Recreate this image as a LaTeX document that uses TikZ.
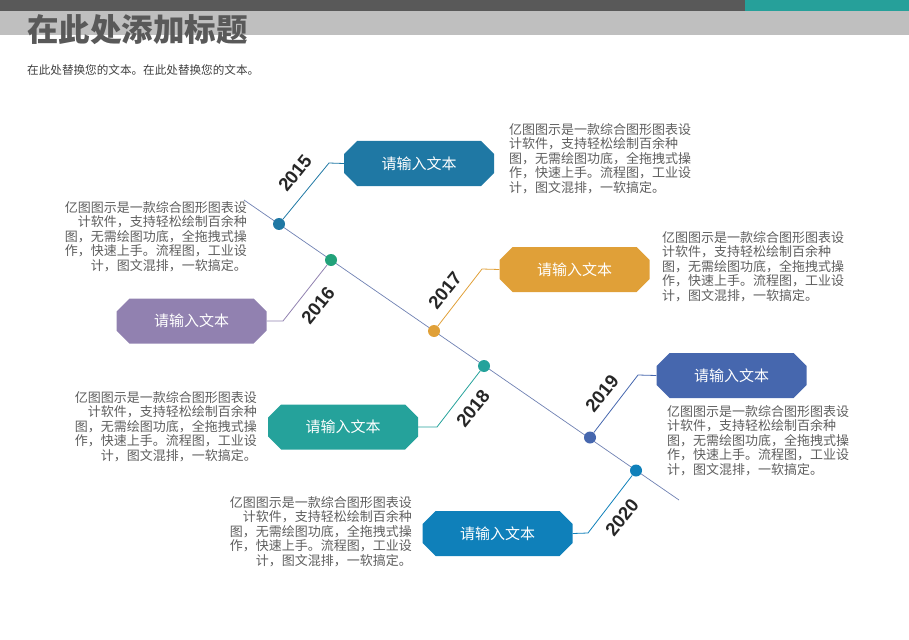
\documentclass[tikz,border=0pt]{standalone}
\usepackage{fontspec}
\setmainfont{Noto Sans CJK SC}
\newfontfamily\yearfont{Liberation Sans}
\definecolor{hdark}{HTML}{595959}
\definecolor{hteal}{HTML}{26A09A}
\definecolor{hgray}{HTML}{BFBFBF}
\definecolor{titlegray}{HTML}{595959}
\definecolor{txtgray}{HTML}{5E5E5E}
\definecolor{mainline}{HTML}{6E80B2}
\definecolor{c15}{HTML}{1F78A4}
\definecolor{c16}{HTML}{9181B0}
\definecolor{d16}{HTML}{22A27A}
\definecolor{c17}{HTML}{E0A038}
\definecolor{c18}{HTML}{25A29B}
\definecolor{c19}{HTML}{4667AE}
\definecolor{c20}{HTML}{0F80BA}
\newcommand\desctext{亿图图示是一款综合图形图表设\\计软件，支持轻松绘制百余种\\图，无需绘图功底，全拖拽式操\\作，快速上手。流程图，工业设\\计，图文混排，一软搞定。}
\begin{document}
\begin{tikzpicture}[x=1pt,y=-1pt,
  octbox/.style={minimum width=150pt, minimum height=45pt, inner sep=0pt,
    text=white, font=\fontsize{15pt}{18pt}\selectfont,
    path picture={\fill[#1]
      ([xshift=13pt]path picture bounding box.north west) --
      ([xshift=-13pt]path picture bounding box.north east) --
      ([yshift=-13pt]path picture bounding box.north east) --
      ([yshift=13pt]path picture bounding box.south east) --
      ([xshift=-13pt]path picture bounding box.south east) --
      ([xshift=13pt]path picture bounding box.south west) --
      ([yshift=13pt]path picture bounding box.south west) --
      ([yshift=-13pt]path picture bounding box.north west) -- cycle;}},
  dot/.style={circle, fill=#1, inner sep=0pt, minimum size=12pt},
  branch/.style={draw=#1, line width=0.8pt},
  yr/.style={font=\yearfont\bfseries\fontsize{18.5pt}{18.5pt}\selectfont, text=black!85, inner sep=0pt},
  desc/.style={font=\fontsize{13pt}{14.6pt}\selectfont, text=txtgray, inner sep=0pt}
]
\useasboundingbox (0,0) rectangle (909,639);
% header
\fill[hgray] (0,11) rectangle (909,35);
\fill[hdark] (0,0) rectangle (745,11);
\fill[hteal] (745,0) rectangle (909,11);
\node[anchor=west, inner sep=0pt, text=titlegray, font=\bfseries\fontsize{31.5pt}{33pt}\selectfont] (title) at (27,30) {在此处添加标题};
\node[anchor=west, inner sep=0pt, text=black!75, font=\fontsize{11.6pt}{13pt}\selectfont] (sub) at (27,70) {在此处替换您的文本。在此处替换您的文本。};
% main line
\coordinate (ls) at (244,200);
\coordinate (le) at (679,500);
\draw[mainline, line width=0.7pt] (ls) -- (le);
% elbows
\coordinate (e15) at (329,163);
\coordinate (e16) at (283,321);
\coordinate (e17) at (482,269);
\coordinate (e18) at (437,427);
\coordinate (e19) at (638,375);
\coordinate (e20) at (588,533);
% boxes
\node[octbox=c15] (b15) at (419,163.5) {请输入文本};
\node[octbox=c16] (b16) at (191.5,321) {请输入文本};
\node[octbox=c17] (b17) at (574.5,269.5) {请输入文本};
\node[octbox=c18] (b18) at (343,427) {请输入文本};
\node[octbox=c19] (b19) at (731.5,375.5) {请输入文本};
\node[octbox=c20] (b20) at (497.5,533.5) {请输入文本};
% dots
\node[dot=c15] (d15) at (279,224) {};
\node[dot=d16] (d16) at (331,260) {};
\node[dot=c17] (d17) at (434,331) {};
\node[dot=c18] (d18) at (484,366) {};
\node[dot=c19] (d19) at (590,437.5) {};
\node[dot=c20] (d20) at (636,470.5) {};
% branches
\draw[branch=c15] (d15) -- (e15) -- (b15.west);
\draw[branch=c16] (d16) -- (e16) -- (b16.east);
\draw[branch=c17] (d17) -- (e17) -- (b17.west);
\draw[branch=c18] (d18) -- (e18) -- (b18.east);
\draw[branch=c19] (d19) -- (e19) -- (b19.west);
\draw[branch=c20] (d20) -- (e20) -- (b20.east);
% years
\node[yr, rotate=51] (y15) at (295,173) {2015};
\node[yr, rotate=51] (y16) at (318,305) {2016};
\node[yr, rotate=51] (y17) at (445,290) {2017};
\node[yr, rotate=51] (y18) at (473,408) {2018};
\node[yr, rotate=51] (y19) at (602,393) {2019};
\node[yr, rotate=51] (y20) at (622,517) {2020};
% descriptions
\node[desc, align=left, anchor=north west] (t15) at (509,123) {\desctext};
\node[desc, align=right, anchor=north east] (t16) at (247,201) {\desctext};
\node[desc, align=left, anchor=north west] (t17) at (662,231) {\desctext};
\node[desc, align=right, anchor=north east] (t18) at (257,391) {\desctext};
\node[desc, align=left, anchor=north west] (t19) at (667,405) {\desctext};
\node[desc, align=right, anchor=north east] (t20) at (412,496) {\desctext};
\end{tikzpicture}
\end{document}
